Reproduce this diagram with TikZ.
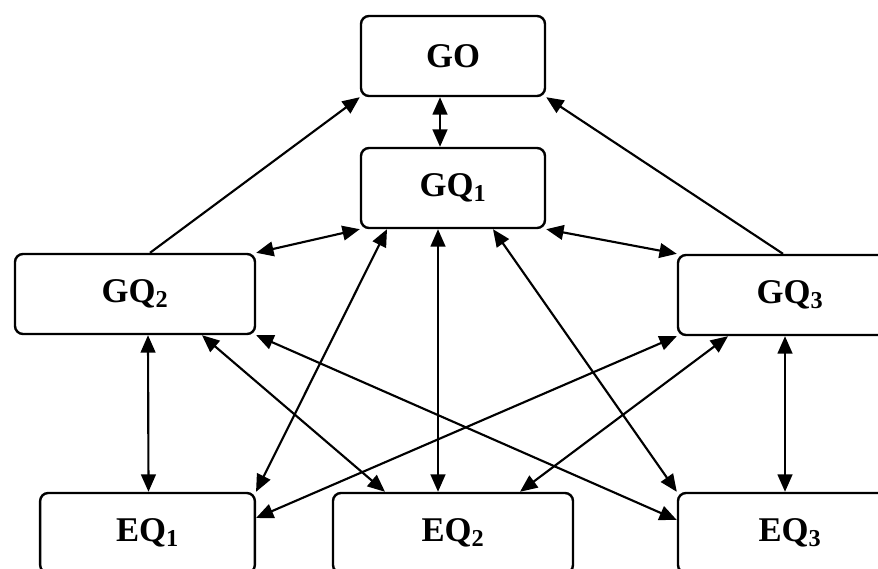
\documentclass[tikz,border=0pt]{standalone}
\usepackage{fontspec}
\setmainfont{Liberation Serif}
\usetikzlibrary{arrows.meta,calc}

\begin{document}
\begin{tikzpicture}[x=0.75pt,y=0.75pt,yscale=-1,xscale=1,
  box/.style={draw,line width=1.8pt,rounded corners=6pt,inner sep=0pt,minimum height=60pt,font=\bfseries\fontsize{26}{30}\selectfont},
  link/.style={line width=1.6pt,{Triangle[length=13pt,width=11pt]}-{Triangle[length=13pt,width=11pt]}},
  oneway/.style={line width=1.6pt,-{Triangle[length=13pt,width=11pt]}}]
\useasboundingbox (0,0) rectangle (878,568);
\clip (0,0) rectangle (878,568);
\node [box,minimum width=138pt] (GO) at (453,56) {GO};
\node [box,minimum width=138pt] (GQ1) at (453,188) {GQ\textsubscript{1}};
\node [box,minimum width=180pt] (GQ2) at (135,294) {GQ\textsubscript{2}};
\node [box,minimum width=168pt] (GQ3) at (790,295) {GQ\textsubscript{3}};
\node [box,minimum width=161pt] (EQ1) at (147.5,533) {EQ\textsubscript{1}};
\node [box,minimum width=180pt] (EQ2) at (453,533) {EQ\textsubscript{2}};
\node [box,minimum width=168pt] (EQ3) at (790,533) {EQ\textsubscript{3}};
\draw [link] ($(GO.south)+(-13,0)$) -- ($(GQ1.north)+(-13,0)$);
\draw [oneway] ($(GQ2.north)+(15,0)$) -- (GO.south west);
\draw [oneway] ($(GQ3.north)+(-7,0)$) -- (GO.south east);
\draw [link] (GQ2.north east) -- (GQ1.south west);
\draw [link] (GQ1.south east) -- (GQ3.north west);
\draw [link] ($(GQ1.south)+(-66,0)$) -- (EQ1.north east);
\draw [link] ($(GQ1.south)+(-15,0)$) -- ($(EQ2.north)+(-15,0)$);
\draw [link] ($(GQ1.south)+(40,0)$) -- (EQ3.north west);
\draw [link] ($(GQ2.south)+(13,0)$) -- ($(EQ1.north)+(1,0)$);
\draw [link] ($(GQ2.south)+(67,0)$) -- ($(EQ2.north)+(-68,0)$);
\draw [link] (GQ2.south east) -- ($(EQ3.west)+(0,-13)$);
\draw [link] (GQ3.south west) -- ($(EQ1.east)+(0,-15)$);
\draw [link] ($(GQ3.south)+(-62,0)$) -- ($(EQ2.north)+(67,0)$);
\draw [link] ($(GQ3.south)+(-5,0)$) -- ($(EQ3.north)+(-5,0)$);
\end{tikzpicture}
\end{document}
